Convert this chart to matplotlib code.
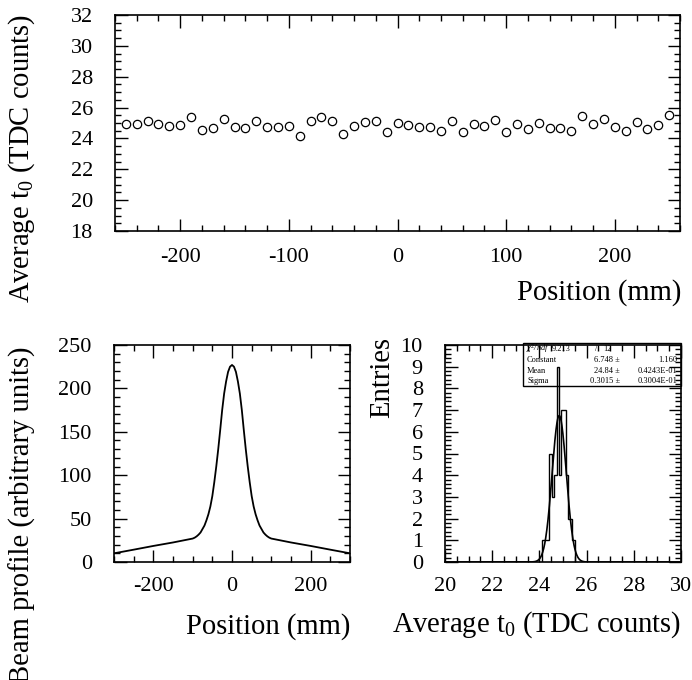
import matplotlib
matplotlib.use('Agg')
import matplotlib.pyplot as plt
import numpy as np
from matplotlib.ticker import MultipleLocator
from matplotlib.patches import Rectangle

W, H = 692, 680
plt.rcParams['font.family'] = ['Liberation Serif', 'DejaVu Serif']
plt.rcParams['mathtext.fontset'] = 'custom'
plt.rcParams['mathtext.rm'] = 'Liberation Serif'
plt.rcParams['mathtext.it'] = 'Liberation Serif:italic'
plt.rcParams['axes.unicode_minus'] = False

# ---------------- data ----------------
positions = list(range(-250, 251, 10))
t0_values = [24.94, 24.94, 25.15, 24.94, 24.80, 24.90, 25.37, 24.55, 24.68, 25.24,
             24.77, 24.66, 25.10, 24.72, 24.77, 24.83, 24.16, 25.15, 25.40, 25.15,
             24.27, 24.80, 25.07, 25.10, 24.44, 25.00, 24.90, 24.72, 24.74, 24.50,
             25.15, 24.42, 24.94, 24.80, 25.17, 24.40, 24.94, 24.64, 25.02, 24.66,
             24.66, 24.48, 25.45, 24.94, 25.26, 24.77, 24.50, 25.07, 24.62, 24.90,
             25.54]

profile_x = [-300, -250, -200, -150, -100, -95, -90, -85, -80, -75, -70, -65, -60,
             -55, -50, -45, -40, -35, -30, -25, -20, -15, -10, -5, 0,
             5, 10, 15, 20, 25, 30, 35, 40, 45, 50, 55, 60, 65, 70, 75, 80,
             85, 90, 95, 100, 150, 200, 250, 300]
profile_y = [10, 14.2, 18.5, 22.5, 27, 28, 29.5, 31.5, 34, 38, 42, 48, 55,
             64, 76, 92, 110, 130, 152, 175, 194, 208, 219, 225, 227,
             225, 219, 208, 194, 175, 152, 130, 110, 92, 76, 64, 55, 48, 42, 38, 34,
             31.5, 29.5, 28, 27, 22.5, 18.5, 14.2, 10]

hist_edges = [24.10, 24.41, 24.53, 24.62, 24.74, 24.81, 24.92, 25.12, 25.23, 25.37, 25.49]
hist_counts = [1, 5, 3, 4, 9, 4, 7, 4, 2, 1]

fit_chi2, fit_ndf = 9.213, 12
fit_constant, fit_constant_err = 6.748, 1.160
fit_mean, fit_mean_err = 24.84, "0.4243E-01"
fit_sigma, fit_sigma_err = 0.3015, "0.3004E-01"

# ---------------- figure ----------------
fig = plt.figure(figsize=(W / 100, H / 100), dpi=100)
LFS = 20.6


def px_axes(l, t, r, b):
    return fig.add_axes([l / W, 1 - b / H, (r - l) / W, (b - t) / H])


def style(ax, xmaj, xmin, ymaj, ymin, xpad=12, ypad=16):
    ax.xaxis.set_major_locator(MultipleLocator(xmaj))
    ax.xaxis.set_minor_locator(MultipleLocator(xmin))
    ax.yaxis.set_major_locator(MultipleLocator(ymaj))
    ax.yaxis.set_minor_locator(MultipleLocator(ymin))
    ax.tick_params(which='both', direction='in', top=True, right=True,
                   width=1.0, colors='black', labelsize=16)
    ax.tick_params(which='major', length=9)
    ax.tick_params(which='minor', length=4.5)
    ax.tick_params(axis='x', pad=xpad)
    ax.tick_params(axis='y', pad=ypad)
    for s in ax.spines.values():
        s.set_linewidth(1.2)


# Top panel
ax1 = px_axes(115, 15, 680, 231)
ax1.plot(positions, t0_values, linestyle='none', marker='o', markersize=6,
         markerfacecolor='white', markeredgecolor='black', markeredgewidth=0.9)
ax1.set_xlim(-260, 260)
ax1.set_ylim(18, 32)
style(ax1, 100, 20, 2, 0.5)
fig.text(22 / W, 1 - 14 / H, 'Average t$_0$ (TDC counts)', rotation=90,
         ha='center', va='top', fontsize=LFS)
fig.text(681 / W, 1 - 293 / H, 'Position (mm)', ha='right', va='center', fontsize=LFS)

# Bottom-left panel
ax2 = px_axes(114, 345, 350, 562)
ax2.plot(profile_x, profile_y, color='black', linewidth=1.3)
ax2.set_xlim(-300, 300)
ax2.set_ylim(0, 250)
style(ax2, 200, 50, 50, 10, xpad=11)
fig.text(22 / W, 1 - 346 / H, 'Beam profile (arbitrary units)', rotation=90,
         ha='center', va='top', fontsize=LFS)
fig.text(350 / W, 1 - 627 / H, 'Position (mm)', ha='right', va='center', fontsize=LFS)

# Bottom-right panel
ax3 = px_axes(445, 345, 681, 562)
ax3.stairs(hist_counts, hist_edges, color='black', linewidth=1.0, zorder=3)
xf = np.linspace(20, 30, 1000)
ax3.plot(xf, fit_constant * np.exp(-0.5 * ((xf - fit_mean) / fit_sigma) ** 2),
         color='black', linewidth=1.2, zorder=3)
ax3.set_xlim(20, 30)
ax3.set_ylim(0, 10)
style(ax3, 2, 0.5, 1, 0.2, xpad=11)
fig.text(382 / W, 1 - 337 / H, 'Entries', rotation=90, ha='center', va='top', fontsize=LFS)
fig.text(681 / W, 1 - 625 / H, 'Average t$_0$ (TDC counts)', ha='right', va='center',
         fontsize=LFS)

# Stats box
fig.patches.append(Rectangle((523 / W, 1 - 386 / H), (681 - 523) / W, (386 - 343) / H,
                             transform=fig.transFigure, fill=False, linewidth=1.0,
                             edgecolor='black', zorder=5))
fs = 6
rows_y = [349, 360, 371, 381]
fig.text(526 / W, 1 - rows_y[0] / H, r'$\chi^2$/ndf', style='italic', fontsize=fs, va='center')
fig.text(571 / W, 1 - rows_y[0] / H, f'{fit_chi2:.3f}', ha='right', fontsize=fs, va='center')
fig.text(596 / W, 1 - rows_y[0] / H, '/', ha='center', fontsize=fs, va='center')
fig.text(607 / W, 1 - rows_y[0] / H, f'{fit_ndf}', ha='center', fontsize=fs, va='center')
labels = ['Constant', 'Mean', 'Sigma']
vals = [f'{fit_constant:.3f}', f'{fit_mean:.2f}', f'{fit_sigma:.4f}']
errs = [f'{fit_constant_err:.3f}', fit_mean_err, fit_sigma_err]
for yy, lab, v, e in zip(rows_y[1:], labels, vals, errs):
    fig.text(527 / W, 1 - yy / H, lab, fontsize=fs, va='center')
    fig.text(620 / W, 1 - yy / H, v + ' \u00b1', ha='right', fontsize=fs, va='center')
    fig.text(677 / W, 1 - yy / H, e, ha='right', fontsize=fs, va='center')

fig.savefig('out.png', dpi=100)
